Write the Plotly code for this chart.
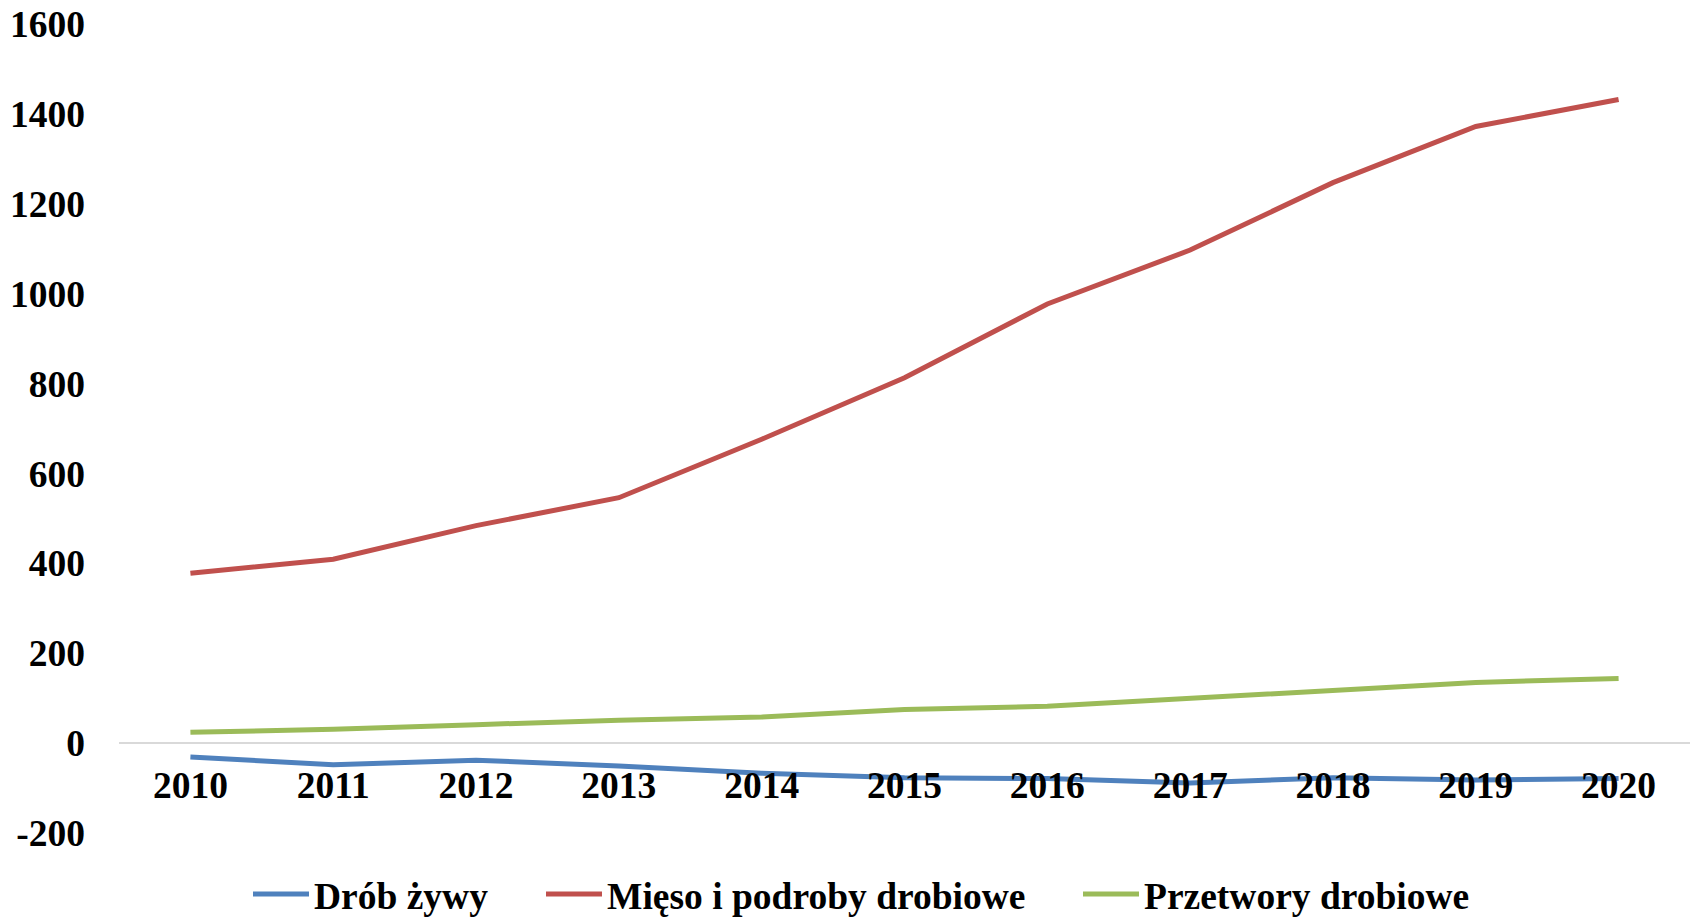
import plotly.graph_objects as go

years = ["2010", "2011", "2012", "2013", "2014", "2015", "2016", "2017", "2018", "2019", "2020"]
drob_zywy = [-31, -48, -38, -51, -67, -77, -79, -89, -77, -82, -79]
mieso = [378, 409, 484, 546, 676, 813, 977, 1097, 1247, 1372, 1432]
przetwory = [24, 31, 41, 51, 58, 75, 82, 99, 118, 135, 144]

series_names = ["Drób żywy", "Mięso i podroby drobiowe", "Przetwory drobiowe"]
series_colors = ["#4F81BD", "#C0504D", "#9BBB59"]
legend_ids = ["legend", "legend2", "legend3"]
legend_x = [248, 541, 1078]
y_ticks = [-200, 0, 200, 400, 600, 800, 1000, 1200, 1400, 1600]

FONT = "Liberation Serif"
FS = 37.5
W, H = 1696, 917

fig = go.Figure()
for name, vals, col, lid in zip(series_names, [drob_zywy, mieso, przetwory], series_colors, legend_ids):
    fig.add_trace(go.Scatter(x=years, y=vals, mode="lines", name=name, legend=lid,
                             line=dict(color=col, width=5)))

ymin, ymax = -200, 1600
zero_frac = (0 - ymin) / (ymax - ymin)

legend_common = dict(orientation="h", xanchor="left", yanchor="middle",
                     xref="container", yref="container",
                     y=(H - 894) / H,
                     font=dict(family=FONT, size=FS, color="black", weight="bold"),
                     itemwidth=56, bgcolor="rgba(0,0,0,0)", borderwidth=0)

layout_legends = {}
for lid, lx in zip(legend_ids, legend_x):
    layout_legends[lid] = dict(legend_common, x=lx / W)

fig.update_layout(
    width=W, height=H,
    margin=dict(l=119, r=6, t=24, b=84, autoexpand=False),
    paper_bgcolor="white", plot_bgcolor="white",
    font=dict(family=FONT, size=FS, color="black"),
    showlegend=True,
    xaxis=dict(type="category", range=[-0.5, 10.5], anchor="free", position=zero_frac,
               showline=True, linecolor="#D9D9D9", linewidth=2, showgrid=False,
               zeroline=False, ticks="", ticklabelstandoff=9, automargin=False,
               tickfont=dict(family=FONT, size=FS, color="black", weight="bold")),
    yaxis=dict(range=[ymin, ymax], tickvals=y_ticks, ticktext=[str(v) for v in y_ticks],
               showgrid=False, zeroline=False, showline=False, ticks="",
               ticklabelstandoff=33, automargin=False,
               tickfont=dict(family=FONT, size=FS, color="black", weight="bold")),
    **layout_legends,
)

fig.write_html("out.html",
               config={"displayModeBar": False},
               post_script="document.body.style.margin='0';document.body.style.overflow='hidden';")
